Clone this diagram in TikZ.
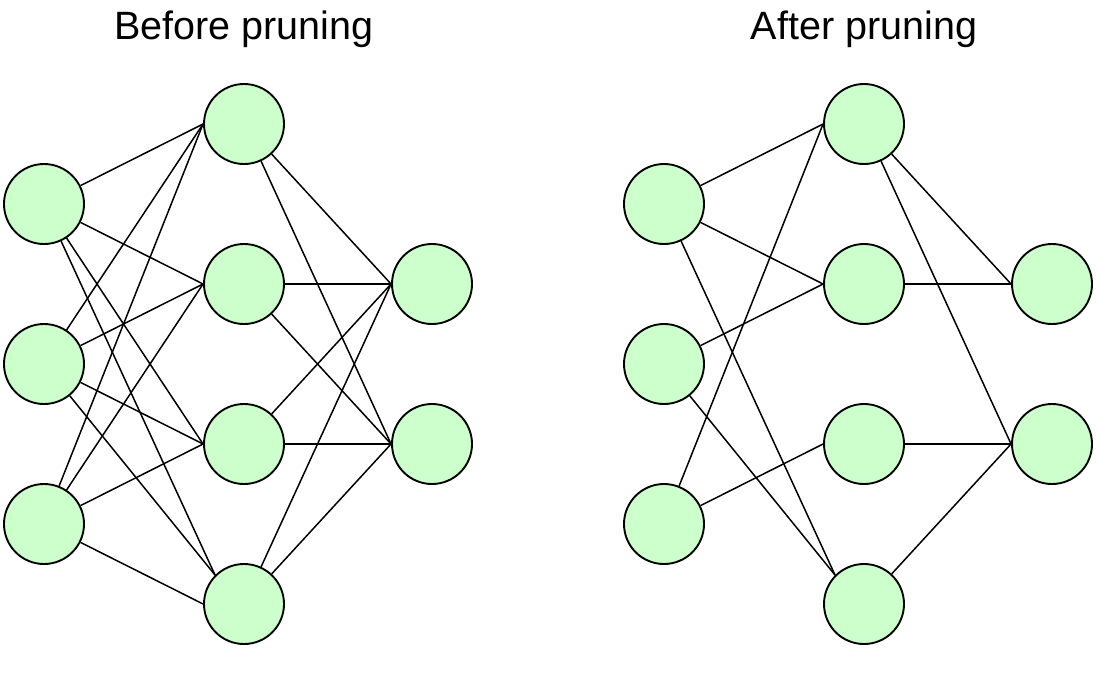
\documentclass[tikz,border=0pt]{standalone}
\usepackage{fontspec}
\setmainfont{Liberation Sans}
\usetikzlibrary{positioning}
\definecolor{NeuronGreen}{HTML}{CCFFCC}

\begin{document}
\begin{tikzpicture}[x=1pt,y=-1pt,
    neuron/.style={circle,draw,line width=1.9pt,fill=NeuronGreen,
      minimum size=80pt,inner sep=0pt},
    synapse/.style={line width=1.5pt},
    heading/.style={anchor=base,font=\fontsize{39.5}{47}\selectfont}]
  \useasboundingbox (0,0) rectangle (1099,677);
  \node[heading] (tbefore) at (244,40) {Before pruning};
  \node[heading] (tafter) at (864,40) {After pruning};
  % layers of both nets
  \foreach \i/\y in {1/204,2/364,3/524} {
    \node[neuron] (bin\i) at (44,\y) {};
    \node[neuron] (ain\i) at (664,\y) {};
  }
  \foreach \j/\y in {1/124,2/284,3/444,4/604} {
    \node[neuron] (bhid\j) at (244,\y) {};
    \node[neuron] (ahid\j) at (864,\y) {};
  }
  \foreach \k/\y in {1/284,2/444} {
    \node[neuron] (bout\k) at (432,\y) {};
    \node[neuron] (aout\k) at (1052,\y) {};
  }
  % before: fully connected
  \foreach \i in {1,2,3}
    \foreach \j in {1,2,3}
      \draw[synapse] (bin\i) -- (bhid\j.west);
  \draw[synapse] (bin1) -- (bhid4.north west);
  \draw[synapse] (bin2) -- (bhid4.north west);
  \draw[synapse] (bin3) -- (bhid4.west);
  \foreach \j in {1,...,4}
    \foreach \k in {1,2}
      \draw[synapse] (bhid\j) -- (bout\k.west);
  % after: kept weights only
  \foreach \a/\b in {ain1/ahid1,ain1/ahid2,ain2/ahid2,ain3/ahid1,ain3/ahid3,
      ahid1/aout1,ahid1/aout2,ahid2/aout1,ahid3/aout2,ahid4/aout2}
    \draw[synapse] (\a) -- (\b.west);
  \draw[synapse] (ain1) -- (ahid4.north west);
  \draw[synapse] (ain2) -- (ahid4.north west);
\end{tikzpicture}
\end{document}
